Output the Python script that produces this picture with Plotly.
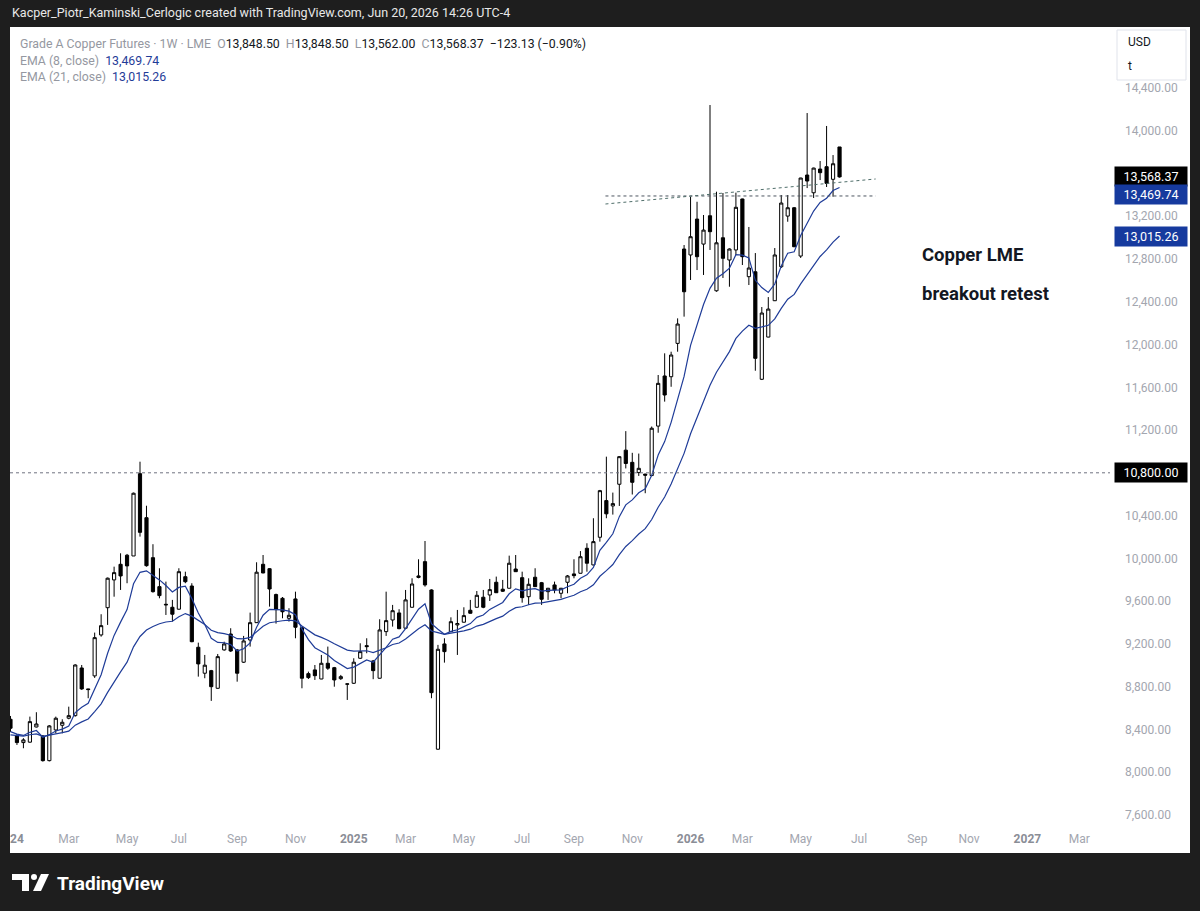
import plotly.graph_objects as go
import pandas as pd

# ---------------- data (weekly bars, Grade A Copper Futures, LME) ----------------
first_week = "2024-01-01"
n_weeks = 129
dates = pd.date_range(first_week, periods=n_weeks, freq="7D")

opens = [8494, 8338, 8276, 8280, 8422, 8338, 8107, 8394, 8438, 8504,
         8528, 8974, 8778, 8900, 9283, 9538, 9798, 9944, 10029, 10022,
         10792, 10380, 10006, 9735, 9570, 9542, 9524, 9828, 9741, 9168,
         8925, 8949, 8784, 9143, 9292, 9143, 9028, 9236, 9398, 9944,
         9903, 9661, 9626, 9439, 9620, 9351, 8921, 8956, 8871, 9018,
         8977, 8874, 8822, 8831, 9065, 9183, 9040, 8878, 9314, 9423,
         9489, 9346, 9542, 9821, 9969, 9704, 8214, 9199, 9314, 9377,
         9402, 9514, 9542, 9636, 9657, 9776, 9711, 9720, 9900, 9819,
         9641, 9823, 9772, 9688, 9751, 9673, 9776, 9854, 9860, 10094,
         9938, 10197, 10540, 10490, 10693, 11012, 10898, 10802, 10788, 10774,
         11237, 11706, 11699, 12011, 12894, 12838, 13174, 12940, 13205, 12503,
         12999, 12791, 12885, 13362, 12635, 12681, 11675, 12070, 12410, 12728,
         13202, 13280, 12828, 13586, 13420, 13642, 13664, 13546, 13848.50]
highs = [8525, 8357, 8317, 8519, 8560, 8347, 8440, 8519, 8494, 8612,
         9009, 9002, 8780, 9305, 9477, 9820, 9922, 10047, 10041, 10615,
         10904, 10492, 10132, 9907, 9782, 9611, 9907, 9875, 9767, 9211,
         9096, 8956, 9105, 9220, 9346, 9152, 9274, 9492, 9963, 10031,
         9909, 9670, 9638, 9533, 9688, 9358, 8940, 9002, 9096, 9174,
         8984, 8909, 8827, 9065, 9205, 9252, 9049, 9430, 9688, 9564,
         9524, 9704, 9813, 9991, 10162, 9710, 9190, 9252, 9448, 9517,
         9542, 9611, 9694, 9704, 9807, 9829, 9798, 10025, 10031, 9875,
         9813, 9907, 9779, 9723, 9782, 9723, 9844, 9991, 10068, 10141,
         10375, 10640, 10951, 10615, 10957, 11190, 10987, 10980, 10791, 11233,
         11715, 11918, 11933, 12245, 12931, 13383, 13336, 13212, 14241, 13430,
         13418, 12900, 13421, 13365, 13100, 12856, 12351, 12444, 12903, 13399,
         13399, 13287, 13560, 14166, 13655, 13717, 14045, 13773, 13848.50]
lows = [8376, 8254, 8223, 8275, 8418, 8098, 8100, 8363, 8363, 8494,
        8519, 8769, 8691, 8881, 9267, 9377, 9641, 9704, 9767, 10022,
        10203, 9922, 9679, 9626, 9470, 9408, 9520, 9767, 9215, 8893,
        8878, 8666, 8780, 9136, 9124, 8846, 9021, 9174, 9395, 9860,
        9548, 9389, 9439, 9408, 9252, 8784, 8871, 8862, 8869, 8956,
        8799, 8862, 8675, 8825, 9058, 9112, 8869, 8875, 9274, 9361,
        9336, 9343, 9540, 9813, 9735, 8691, 8210, 9024, 9311, 9096,
        9400, 9483, 9540, 9533, 9601, 9676, 9685, 9718, 9872, 9585,
        9564, 9732, 9564, 9611, 9673, 9626, 9673, 9813, 9858, 9875,
        9935, 10156, 10375, 10409, 10490, 10841, 10597, 10771, 10609, 10770,
        11175, 11466, 11605, 11933, 12261, 12604, 12697, 12651, 12885, 12494,
        12623, 12541, 12838, 12744, 12557, 11755, 11668, 12068, 12408, 12716,
        13149, 12912, 12810, 13464, 13371, 13539, 13474, 13383, 13562.00]
closes = [8410, 8276, 8301, 8472, 8450, 8107, 8432, 8504, 8466, 8528,
          9002, 8778, 8772, 9258, 9370, 9814, 9866, 9835, 9929, 10609,
          10243, 9931, 9688, 9651, 9565, 9477, 9875, 9781, 9220, 9012,
          9000, 8799, 9080, 9199, 9133, 8925, 9227, 9398, 9870, 9863,
          9713, 9520, 9500, 9467, 9355, 8878, 8884, 8902, 9018, 8972,
          8862, 8893, 8825, 9028, 9127, 9174, 8949, 9330, 9417, 9510,
          9342, 9611, 9760, 9835, 9751, 8743, 9149, 9127, 9407, 9390,
          9464, 9486, 9654, 9542, 9707, 9678, 9692, 9954, 9875, 9632,
          9757, 9735, 9617, 9720, 9704, 9720, 9835, 9838, 10015, 9954,
          10156, 10633, 10416, 10512, 10951, 10887, 10711, 10842, 10778, 11217,
          11637, 11528, 11902, 12192, 12494, 13009, 12822, 13071, 13056, 12952,
          12807, 12894, 13284, 12822, 12716, 11871, 12295, 12332, 12838, 13324,
          13280, 12915, 13558, 13530, 13651, 13608, 13508, 13691.50, 13568.37]
ema8 = [8378, 8355, 8343, 8372, 8389, 8326, 8350, 8384, 8402, 8430,
        8557, 8606, 8643, 8780, 8911, 9112, 9279, 9403, 9520, 9762,
        9869, 9883, 9840, 9798, 9746, 9686, 9728, 9740, 9624, 9488,
        9380, 9251, 9213, 9210, 9193, 9133, 9154, 9208, 9355, 9468,
        9522, 9522, 9517, 9506, 9472, 9340, 9239, 9164, 9132, 9096,
        9044, 9010, 8969, 8982, 9014, 9050, 9028, 9095, 9167, 9243,
        9265, 9342, 9435, 9524, 9574, 9389, 9336, 9290, 9316, 9332,
        9361, 9389, 9448, 9469, 9522, 9557, 9587, 9668, 9714, 9696,
        9710, 9716, 9694, 9700, 9701, 9705, 9734, 9757, 9814, 9845,
        9914, 10074, 10150, 10230, 10390, 10500, 10547, 10613, 10650, 10776,
        10967, 11092, 11272, 11476, 11702, 11992, 12176, 12375, 12526, 12621,
        12662, 12714, 12841, 12837, 12810, 12601, 12533, 12488, 12566, 12734,
        12855, 12868, 13021, 13134, 13249, 13329, 13369, 13441, 13469.74]
ema21 = [8348, 8341, 8337, 8349, 8358, 8335, 8344, 8359, 8369, 8383,
         8439, 8470, 8497, 8566, 8639, 8746, 8848, 8938, 9028, 9172,
         9269, 9329, 9362, 9388, 9404, 9411, 9453, 9483, 9459, 9418,
         9380, 9327, 9305, 9295, 9280, 9248, 9246, 9260, 9315, 9365,
         9397, 9408, 9416, 9421, 9415, 9366, 9322, 9284, 9260, 9234,
         9200, 9172, 9141, 9131, 9131, 9135, 9118, 9137, 9163, 9194,
         9208, 9245, 9292, 9341, 9378, 9320, 9305, 9289, 9300, 9308,
         9322, 9337, 9366, 9382, 9412, 9436, 9459, 9504, 9538, 9547,
         9566, 9581, 9584, 9596, 9606, 9616, 9636, 9654, 9687, 9711,
         9752, 9832, 9885, 9942, 10034, 10111, 10166, 10227, 10277, 10363,
         10478, 10574, 10695, 10831, 10982, 11166, 11317, 11476, 11620, 11741,
         11838, 11934, 12057, 12126, 12180, 12152, 12165, 12180, 12240, 12339,
         12424, 12469, 12568, 12655, 12746, 12824, 12886, 12959, 13015.26]

# axis ticks (the first year label shows only as "24" at the left edge)
month_tick_dates = ["2024-01-08", "2024-03-04", "2024-05-06", "2024-07-01", "2024-09-02", "2024-11-04",
                    "2025-01-06", "2025-03-03", "2025-05-05", "2025-07-07", "2025-09-01", "2025-11-03",
                    "2026-01-05", "2026-03-02", "2026-05-04", "2026-07-06", "2026-09-07", "2026-11-02",
                    "2027-01-04", "2027-03-01"]
month_tick_labels = ["24", "Mar", "May", "Jul", "Sep", "Nov",
                     "2025", "Mar", "May", "Jul", "Sep", "Nov",
                     "2026", "Mar", "May", "Jul", "Sep", "Nov",
                     "2027", "Mar"]
price_ticks = list(range(7600, 14401, 400))

# drawn levels / trendlines
key_level = 10800.00
flat_line_dates = ["2025-10-05", "2026-07-24"]
flat_line_prices = [13390, 13390]
rising_line_dates = ["2025-10-05", "2026-07-24"]
rising_line_prices = [13315, 13549]

last_close = 13568.37
last_ema8 = 13469.74
last_ema21 = 13015.26

# ---------------- styling ----------------
DARK = "#1e1e1e"
EMA_COLOR = "#1f3c98"
TAG_BLUE = "#163a9e"
FONT = "Roboto"
GREY = "#a3a6af"


def px(xp):  # pixel x -> paper x
    return (xp - 10) / 1100


def py(yp):  # pixel y -> paper y
    return (822 - yp) / 795


fig = go.Figure()

fig.add_trace(go.Candlestick(
    x=dates, open=opens, high=highs, low=lows, close=closes,
    increasing=dict(line=dict(color="#000000", width=1), fillcolor="#ffffff"),
    decreasing=dict(line=dict(color="#000000", width=1), fillcolor="#000000"),
    whiskerwidth=0, hoverinfo="skip", showlegend=False, name="Copper"))

fig.add_trace(go.Scatter(x=dates, y=ema21, mode="lines",
                         line=dict(color=EMA_COLOR, width=1.2), hoverinfo="skip", showlegend=False))
fig.add_trace(go.Scatter(x=dates, y=ema8, mode="lines",
                         line=dict(color=EMA_COLOR, width=1.2), hoverinfo="skip", showlegend=False))

shapes = []
# white chart panel
shapes.append(dict(type="rect", xref="paper", yref="paper", x0=px(10), x1=px(1190), y0=py(853), y1=py(27),
                   fillcolor="#ffffff", line=dict(width=0), layer="below"))
# key level dashed line
shapes.append(dict(type="line", xref="paper", yref="y", x0=0, x1=1, y0=key_level, y1=key_level,
                   line=dict(color="#6f7280", width=1, dash="3px,3px")))
# trendlines
shapes.append(dict(type="line", xref="x", yref="y", x0=flat_line_dates[0], x1=flat_line_dates[1],
                   y0=flat_line_prices[0], y1=flat_line_prices[1],
                   line=dict(color="#4d5560", width=1, dash="3px,3px")))
shapes.append(dict(type="line", xref="x", yref="y", x0=rising_line_dates[0], x1=rising_line_dates[1],
                   y0=rising_line_prices[0], y1=rising_line_prices[1],
                   line=dict(color="#4f6e6a", width=1, dash="3px,3px")))
# USD / t box
shapes.append(dict(type="rect", xref="paper", yref="paper", x0=px(1117), x1=px(1186), y0=py(80), y1=py(30),
                   fillcolor="#ffffff", line=dict(color="#e0e3eb", width=1), layer="above"))
# TradingView logo glyph
shapes.append(dict(type="path", xref="paper", yref="paper",
                   path=(f"M {px(12)},{py(874)} L {px(29)},{py(874)} L {px(29)},{py(891)} L {px(22)},{py(891)} "
                         f"L {px(22)},{py(880)} L {px(12)},{py(880)} Z"),
                   fillcolor="#ffffff", line=dict(width=0), layer="above"))
shapes.append(dict(type="circle", xref="paper", yref="paper", x0=px(31), x1=px(37), y0=py(880), y1=py(874),
                   fillcolor="#ffffff", line=dict(width=0), layer="above"))
shapes.append(dict(type="path", xref="paper", yref="paper",
                   path=(f"M {px(41)},{py(874)} L {px(49)},{py(874)} L {px(41)},{py(891)} L {px(33)},{py(891)} Z"),
                   fillcolor="#ffffff", line=dict(width=0), layer="above"))

ann = []
ann.append(dict(xref="paper", yref="paper", x=px(10), y=py(12), xanchor="left", yanchor="middle",
                text="Kacper_Piotr_Kaminski_Cerlogic created with TradingView.com, Jun 20, 2026 14:26 UTC-4",
                showarrow=False, font=dict(family=FONT, size=12.5, color="#e8e8e8")))

g = "#9598a1"
k = "#131722"
b = "#1f3c98"
sp = "\u00a0\u00a0"
line1 = (f"<span style='color:{g}'>Grade A Copper Futures · 1W · LME</span>{sp}"
         f"<span style='color:{g}'>O</span><span style='color:{k}'>{opens[-1]:,.2f}</span>{sp}"
         f"<span style='color:{g}'>H</span><span style='color:{k}'>{highs[-1]:,.2f}</span>{sp}"
         f"<span style='color:{g}'>L</span><span style='color:{k}'>{lows[-1]:,.2f}</span>{sp}"
         f"<span style='color:{g}'>C</span><span style='color:{k}'>{closes[-1]:,.2f}</span>{sp}"
         f"<span style='color:{k}'>−{abs(closes[-1]-closes[-2]):,.2f} (−{abs(closes[-1]/closes[-2]-1)*100:.2f}%)</span>")
line2 = f"<span style='color:{g}'>EMA (8, close)</span>\u00a0\u00a0<span style='color:{b}'>{ema8[-1]:,.2f}</span>"
line3 = f"<span style='color:{g}'>EMA (21, close)</span>\u00a0\u00a0<span style='color:{b}'>{ema21[-1]:,.2f}</span>"
for txt, yy in [(line1, 44), (line2, 61), (line3, 77)]:
    ann.append(dict(xref="paper", yref="paper", x=px(18), y=py(yy), xanchor="left", yanchor="middle",
                    text=txt, showarrow=False, font=dict(family=FONT, size=12.3)))

ann.append(dict(xref="paper", yref="paper", x=px(920), y=py(255), xanchor="left", yanchor="middle",
                text="<b>Copper LME</b>", showarrow=False, font=dict(family=FONT, size=18.5, color="#131722")))
ann.append(dict(xref="paper", yref="paper", x=px(920), y=py(294), xanchor="left", yanchor="middle",
                text="<b>breakout retest</b>", showarrow=False, font=dict(family=FONT, size=18.5, color="#131722")))

ann.append(dict(xref="paper", yref="paper", x=px(1126), y=py(42), xanchor="left", yanchor="middle",
                text="USD", showarrow=False, font=dict(family=FONT, size=12, color="#131722")))
ann.append(dict(xref="paper", yref="paper", x=px(1126), y=py(66), xanchor="left", yanchor="middle",
                text="t", showarrow=False, font=dict(family=FONT, size=12, color="#131722")))

# price tags on the price scale (they sit over the scale labels they cover)
tags = [(last_close, "#000000", 0), (last_ema8, TAG_BLUE, -7),
        (last_ema21, TAG_BLUE, 0), (key_level, "#000000", 0)]
for val, col, shift in tags:
    ann.append(dict(xref="paper", yref="y", x=px(1114), y=val, xanchor="left", yanchor="middle",
                    yshift=shift, text=f"{val:,.2f}", showarrow=False, bgcolor=col, borderpad=2,
                    width=68, align="center", font=dict(family=FONT, size=12.5, color="#ffffff")))

ann.append(dict(xref="paper", yref="paper", x=px(55), y=py(883), xanchor="left", yanchor="middle",
                text="<b>TradingView</b>", showarrow=False, font=dict(family=FONT, size=19, color="#ffffff")))

ticktext = [f"<span style='color:#8a8d96'><b>{t}</b></span>" if t.isdigit() else t for t in month_tick_labels]

# scale labels hidden behind the price tags are left blank
covered = {13600, 10800}
price_ticktext = ["" if v in covered else f"{v:,.2f}" for v in price_ticks]

fig.update_layout(
    width=1200, height=911,
    margin=dict(l=10, r=90, t=27, b=89, autoexpand=False),
    paper_bgcolor=DARK, plot_bgcolor="rgba(0,0,0,0)",
    shapes=shapes, annotations=ann, showlegend=False,
    font=dict(family=FONT),
    xaxis=dict(type="date", range=["2023-12-31 12:00", "2027-04-03 07:00"],
               tickvals=month_tick_dates, ticktext=ticktext,
               showgrid=False, zeroline=False, showline=False, ticks="",
               tickfont=dict(family=FONT, size=12, color=GREY),
               ticklabelstandoff=8, automargin=False,
               rangeslider=dict(visible=False), fixedrange=True),
    yaxis=dict(side="right", range=[7533, 14971], tickvals=price_ticks,
               ticktext=price_ticktext,
               showgrid=False, zeroline=False, showline=False, ticks="",
               tickfont=dict(family=FONT, size=12, color=GREY),
               ticklabelstandoff=14, automargin=False, fixedrange=True),
)

fig.write_html("out.html")
